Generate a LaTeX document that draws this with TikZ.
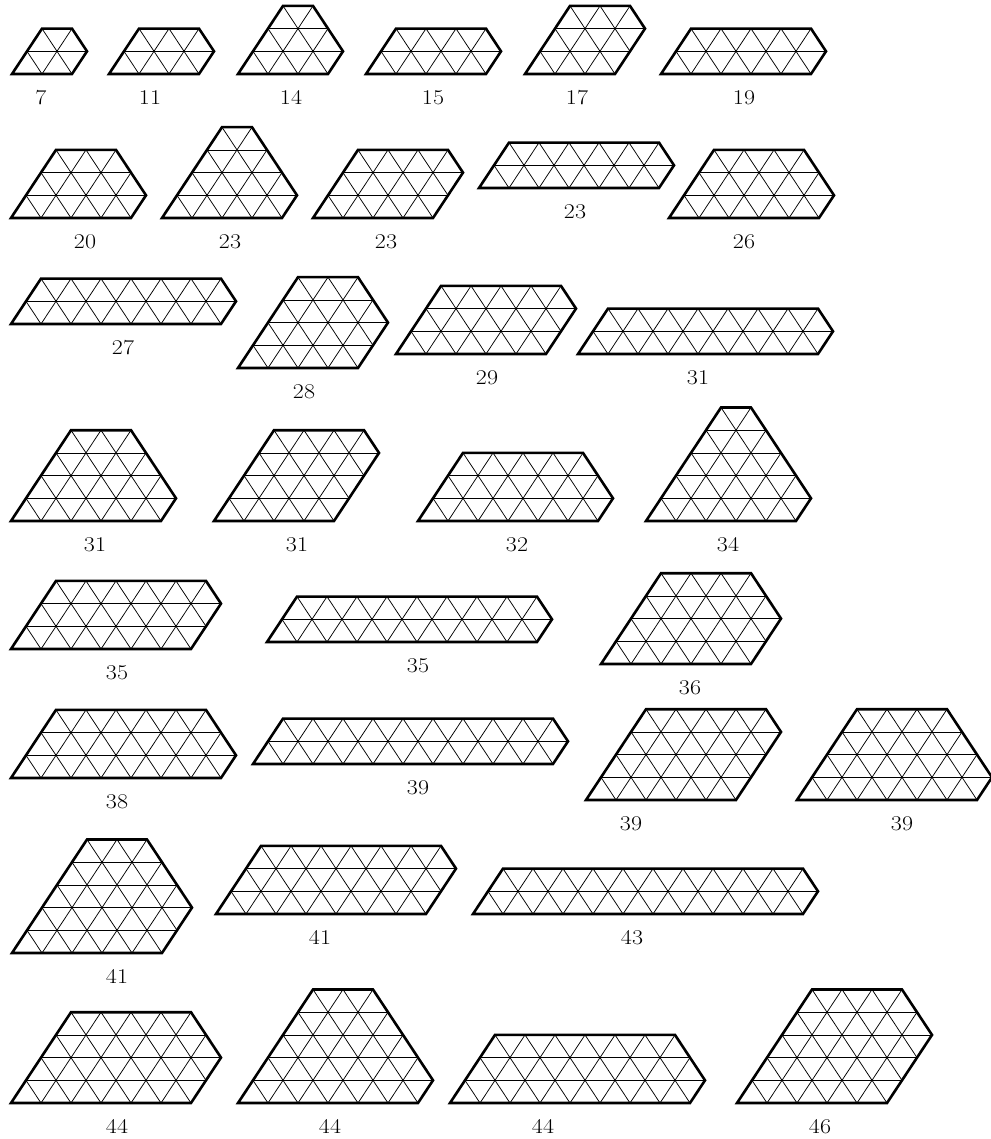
\documentclass[tikz,border=0pt]{standalone}
\usepackage{fontspec}
\setmainfont{Latin Modern Roman}
\tikzset{
  outline/.style={line width=2.6pt, line join=miter},
  grid line/.style={line width=0.75pt},
  lab/.style={font=\fontsize{24}{28}\selectfont, inner sep=0pt}
}
\newcommand{\squish}[1]{\scalebox{1}[0.875]{#1}}
% #1 x0, #2 y0 (bottom-left corner), #3 rows, #4 bottom width, #5 rows before the right kink, #6 label, #7 label x, #8 id
\newcommand{\trishape}[8]{%
  \begin{scope}[shift={(#1,#2)}]
    \pgfmathsetmacro{\cc}{#3-#5}
    \coordinate (#8BL) at (0,0);
    \coordinate (#8BR) at ({30*#4},0);
    \coordinate (#8R)  at ({30*#4+15*#5},{-22.7*#5});
    \coordinate (#8TR) at ({30*#4+15*#5-15*\cc},{-22.7*#3});
    \coordinate (#8TL) at ({15*#3},{-22.7*#3});
    \begin{scope}
      \clip (#8BL) -- (#8BR) -- (#8R) -- (#8TR) -- (#8TL) -- cycle;
      \foreach \k in {1,...,#3} \draw[grid line] (-20,{-22.7*\k}) -- ({30*#4+60},{-22.7*\k});
      \foreach \i in {-6,...,18} {
        \draw[grid line] ({30*\i},0) -- ({30*\i+15*#3},{-22.7*#3});
        \draw[grid line] ({30*\i},0) -- ({30*\i-15*#3},{-22.7*#3});
      }
    \end{scope}
    \draw[outline] (#8BL) -- (#8BR) -- (#8R) -- (#8TR) -- (#8TL) -- cycle;
  \end{scope}
  \node[lab] (#8lab) at (#7,{#2+23.5}) {\squish{#6}};
}
\begin{document}
\begin{tikzpicture}[x=1pt,y=-1pt]
\useasboundingbox (0,0) rectangle (990,1139);
% row 1
\trishape{12}{74}{2}{2}{1}{7}{41}{a}
\trishape{109}{74}{2}{3}{1}{11}{150}{b}
\trishape{238}{74}{3}{3}{1}{14}{291}{c}
\trishape{366}{74}{2}{4}{1}{15}{433}{d}
\trishape{525}{74}{3}{3}{2}{17}{577}{e}
\trishape{661}{74}{2}{5}{1}{19}{744}{f}
% row 2
\trishape{11}{218}{3}{4}{1}{20}{85}{g}
\trishape{162}{218}{4}{4}{1}{23}{230}{h}
\trishape{313}{218}{3}{4}{2}{23}{386}{i}
\trishape{479}{188}{2}{6}{1}{23}{575}{j}
\trishape{669}{218}{3}{5}{1}{26}{744}{k}
% row 3
\trishape{11}{324}{2}{7}{1}{27}{123}{l}
\trishape{238}{368}{4}{4}{2}{28}{304}{m}
\trishape{396}{354}{3}{5}{2}{29}{487}{n}
\trishape{578}{354}{2}{8}{1}{31}{698}{o}
% row 4
\trishape{11}{521}{4}{5}{1}{31}{95}{p}
\trishape{214}{521}{4}{4}{3}{31}{297}{q}
\trishape{418}{521}{3}{6}{1}{32}{517}{r}
\trishape{646}{521}{5}{5}{1}{34}{728}{s}
% row 5
\trishape{11}{649}{3}{6}{2}{35}{117}{t}
\trishape{267}{642}{2}{9}{1}{35}{418}{u}
\trishape{601}{664}{4}{5}{2}{36}{690}{v}
% row 6
\trishape{11}{778}{3}{7}{1}{38}{117}{w}
\trishape{253}{764}{2}{10}{1}{39}{418}{x}
\trishape{586}{800}{4}{5}{3}{39}{631}{y}
\trishape{797}{800}{4}{6}{1}{39}{902}{z}
% row 7
\trishape{12}{953}{5}{5}{2}{41}{117}{aa}
\trishape{216}{914}{3}{7}{2}{41}{320}{ab}
\trishape{473}{914}{2}{11}{1}{43}{632}{ac}
% row 8
\trishape{11}{1103}{4}{6}{2}{44}{117}{ad}
\trishape{238}{1103}{5}{6}{1}{44}{330}{ae}
\trishape{450}{1103}{3}{8}{1}{44}{543}{af}
\trishape{737}{1103}{5}{5}{3}{46}{820}{ag}
\end{tikzpicture}
\end{document}
